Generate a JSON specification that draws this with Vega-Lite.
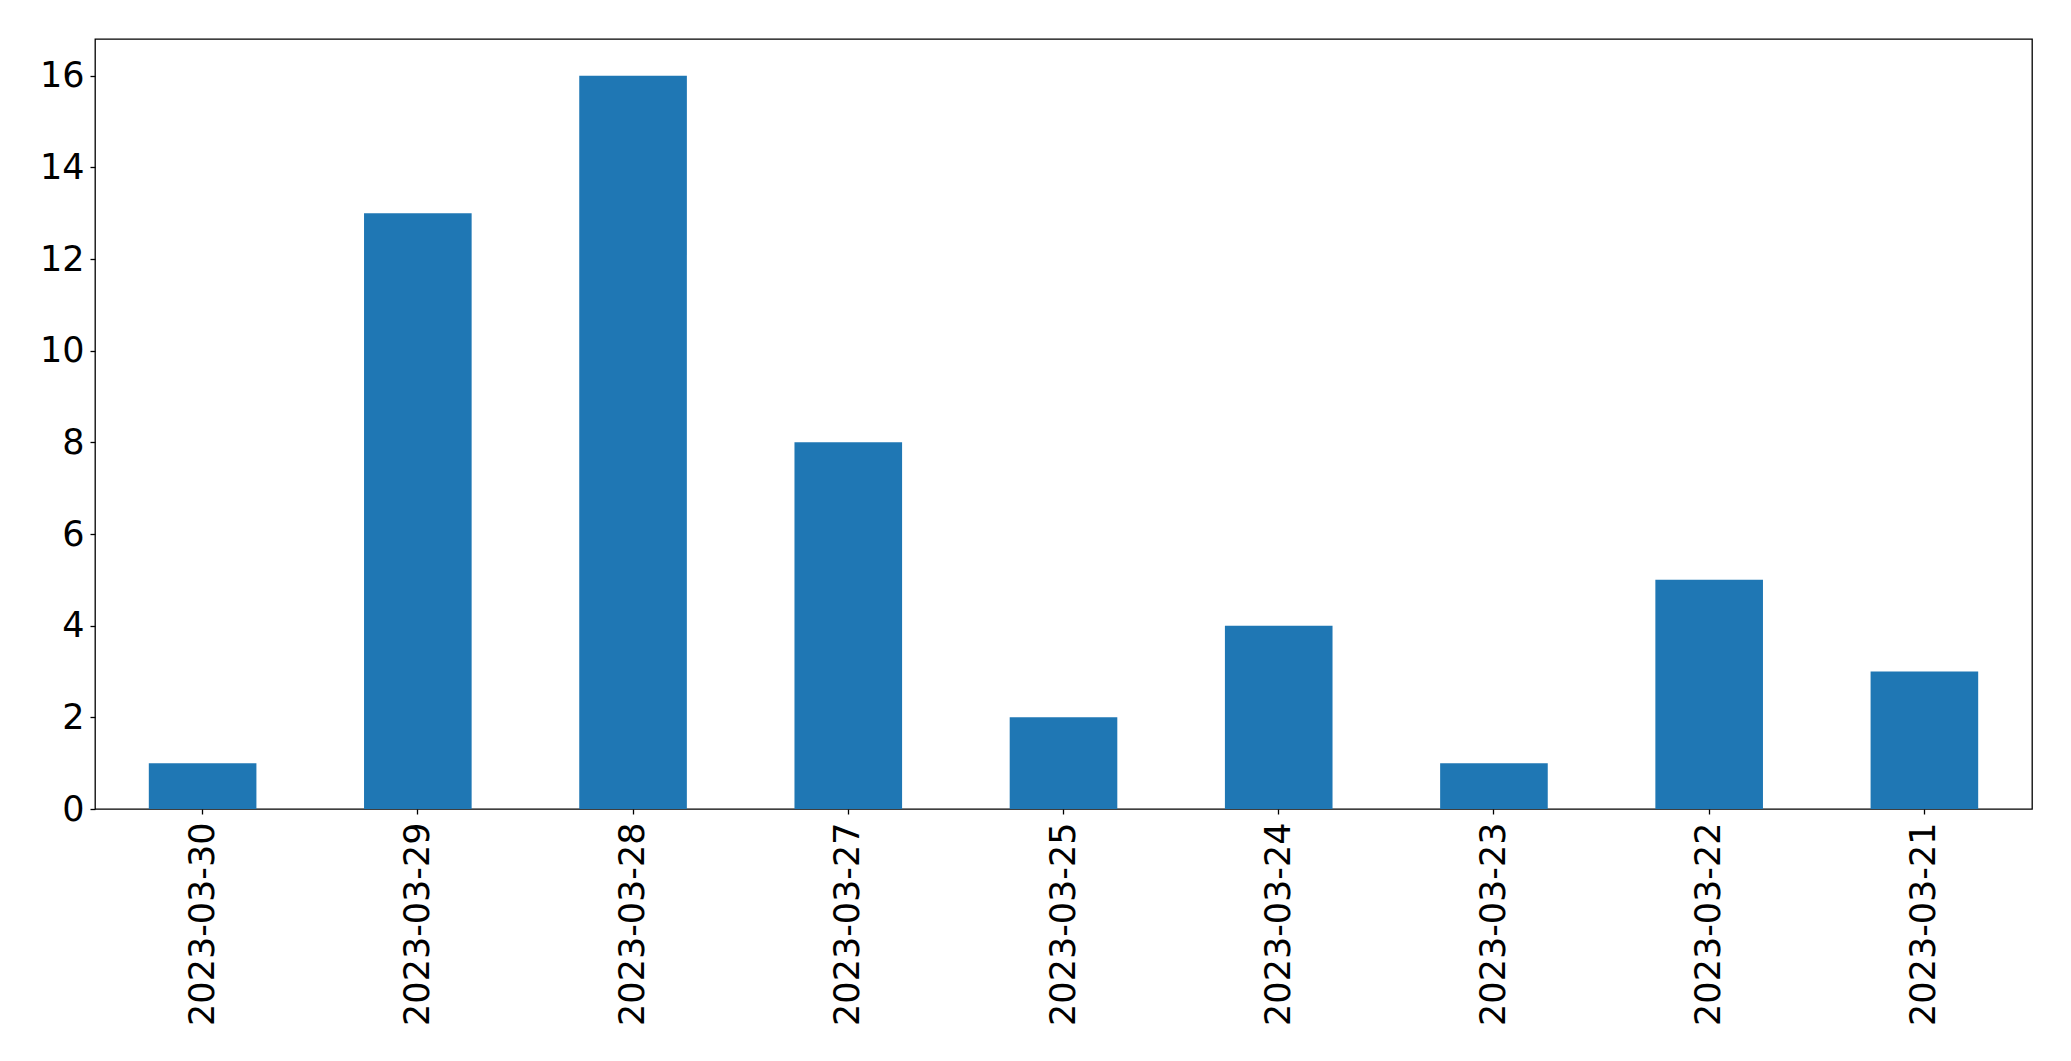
{
  "$schema": "https://vega.github.io/schema/vega-lite/v6.json",
  "autosize": {"type": "none"},
  "width": 1937,
  "height": 770,
  "padding": {"left": 95, "top": 39, "right": 39, "bottom": 252},
  "background": "white",
  "config": {
    "view": {"stroke": "black", "strokeWidth": 1.3},
    "font": "DejaVu Sans",
    "axis": {
      "grid": false,
      "domain": false,
      "tickColor": "black",
      "tickSize": 5,
      "tickWidth": 1.3,
      "labelColor": "black",
      "labelFont": "DejaVu Sans",
      "labelFontSize": 35,
      "labelLimit": 0,
      "title": null
    }
  },
  "data": {
    "values": [
      {"date": "2023-03-30", "count": 1},
      {"date": "2023-03-29", "count": 13},
      {"date": "2023-03-28", "count": 16},
      {"date": "2023-03-27", "count": 8},
      {"date": "2023-03-25", "count": 2},
      {"date": "2023-03-24", "count": 4},
      {"date": "2023-03-23", "count": 1},
      {"date": "2023-03-22", "count": 5},
      {"date": "2023-03-21", "count": 3}
    ]
  },
  "mark": {"type": "bar", "color": "#1f77b4"},
  "encoding": {
    "x": {
      "field": "date",
      "type": "nominal",
      "sort": null,
      "scale": {"paddingInner": 0.5, "paddingOuter": 0.25},
      "axis": {"labelAngle": -90, "labelAlign": "right", "labelBaseline": "middle", "labelPadding": 8}
    },
    "y": {
      "field": "count",
      "type": "quantitative",
      "scale": {"domain": [0, 16.8], "nice": false},
      "axis": {"values": [0, 2, 4, 6, 8, 10, 12, 14, 16], "labelPadding": 6}
    }
  }
}
